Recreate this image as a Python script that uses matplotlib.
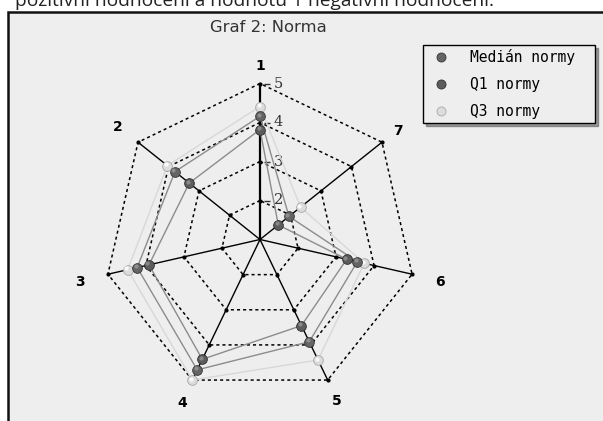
import numpy as np
import matplotlib.pyplot as plt
import matplotlib.transforms as mtransforms
from matplotlib.patches import Rectangle
from matplotlib.lines import Line2D

# data (scale 1..5, centre = 1)
axes_labels = ['1', '2', '3', '4', '5', '6', '7']
q1 = [3.82, 3.32, 3.92, 4.41, 3.45, 3.28, 1.60]
median = [4.16, 3.79, 4.23, 4.71, 3.91, 3.56, 1.95]
q3 = [4.41, 4.04, 4.48, 5.00, 4.43, 3.74, 2.33]
ring_values = [2, 3, 4, 5]
series_names = ['Medián normy', 'Q1 normy', 'Q3 normy']

W, H = 603, 421
fig = plt.figure(figsize=(W / 100, H / 100), dpi=100)
fig.patch.set_facecolor('white')

# panel frame (cut by the right and bottom edge of the picture)
fig.patches.append(Rectangle((8 / W, -0.1), 1.2, 1 - 12 / H + 0.1, transform=fig.transFigure,
                             facecolor='#eeeeee', edgecolor='#111111', lw=1.8, zorder=-5))

fig.text(15 / W, 1 - 6 / H, 'pozitivní hodnocení a hodnotu 1 negativní hodnocení.',
         fontsize=13.8, color='#222222', ha='left', va='baseline', family='Open Sans')
fig.text(268 / W, 1 - 27 / H, 'Graf 2: Norma', fontsize=11.8, color='#333333',
         ha='center', va='center')

cx, cy, R = 260, 239.5, 156
ax = fig.add_axes([(cx - R) / W, (H - cy - R) / H, 2 * R / W, 2 * R / H], projection='polar')
ax.set_zorder(2)
ax.set_theta_zero_location('N')
ax.set_theta_direction(1)
ax.set_rlim(1, 5)
ax.set_facecolor('none')
ax.grid(False)
ax.spines['polar'].set_visible(False)
ax.set_xticks([])
ax.set_yticks([])

n = len(axes_labels)
theta = np.arange(n) * 2 * np.pi / n
closed = np.append(theta, theta[0])

# distance of the bold axis numbers from the centre
label_r = [5.47, 5.66, 5.73, 5.62, 5.56, 5.73, 5.51]
lbl_off = mtransforms.offset_copy(ax.transData, fig=fig, x=0, y=-1, units='dots')
for v in ring_values:
    ax.plot(closed, [v] * (n + 1), color='black', lw=1.1, ls=(0, (2, 2)), zorder=1,
            clip_on=False)
for i, t in enumerate(theta):
    ax.plot([t, t], [1, 5], color='black', lw=1.6 if i == 0 else 1, zorder=1, clip_on=False)
    ax.plot([t] * len(ring_values), ring_values, ls='none', marker='o', ms=2,
            color='black', zorder=1, clip_on=False)
    ax.text(t, label_r[i], axes_labels[i], ha='center', va='center', fontsize=10,
            fontweight='bold', color='black', transform=lbl_off)

tick_off = mtransforms.offset_copy(ax.transData, fig=fig, x=7, y=0, units='dots')
lab_off = mtransforms.offset_copy(ax.transData, fig=fig, x=14, y=0, units='dots')
for v in ring_values:
    ax.plot([0], [v], marker='_', ms=4, color='#333333', transform=tick_off, zorder=2,
            clip_on=False)
    ax.text(0, v, str(v), transform=lab_off, ha='left', va='center', fontsize=10.5,
            color='#333333', family='DejaVu Serif')

styles = [
    (q3, '#d8d8d8', '#dcdcdc', '#a8a8a8', '#fafafa'),
    (median, '#8c8c8c', '#646464', '#363636', '#8e8e8e'),
    (q1, '#8c8c8c', '#5c5c5c', '#2e2e2e', '#888888'),
]
hl_off = mtransforms.offset_copy(ax.transData, fig=fig, x=-1.5, y=1.5, units='dots')
for vals, lc, fc, ec, hc in styles:
    ax.plot(closed, np.append(vals, vals[0]), color=lc, lw=1.0, zorder=3, clip_on=False)
for vals, lc, fc, ec, hc in styles:
    ax.plot(theta, vals, ls='none', marker='o', ms=7, mfc=fc, mec=ec, mew=0.6, zorder=4,
            clip_on=False)
    ax.plot(theta, vals, ls='none', marker='o', ms=3, mfc=hc, mec='none', zorder=4,
            clip_on=False, transform=hl_off)

handles = [
    Line2D([], [], ls='none', marker='o', ms=6.5, mfc='#646464', mec='#363636', mew=0.6),
    Line2D([], [], ls='none', marker='o', ms=6.5, mfc='#5c5c5c', mec='#2e2e2e', mew=0.6),
    Line2D([], [], ls='none', marker='o', ms=6.5, mfc='#dcdcdc', mec='#a8a8a8', mew=0.6),
]
leg_h = 78 / H
leg = fig.legend(handles, series_names, loc='upper left', mode='expand',
                 bbox_to_anchor=(423 / W, 1 - 45 / H - leg_h, 172 / W, leg_h),
                 bbox_transform=fig.transFigure,
                 borderaxespad=0, frameon=True, fancybox=False, shadow=True,
                 prop={'family': 'DejaVu Sans Mono', 'size': 10.5}, labelspacing=0.8,
                 handletextpad=1.1, borderpad=0.3, handlelength=1.8)
leg.get_frame().set_edgecolor('black')
leg.get_frame().set_facecolor('#eeeeee')
leg.get_frame().set_linewidth(1)
leg.get_frame().set_alpha(1)
leg.set_zorder(5)

fig.savefig('out.png', dpi=100)
